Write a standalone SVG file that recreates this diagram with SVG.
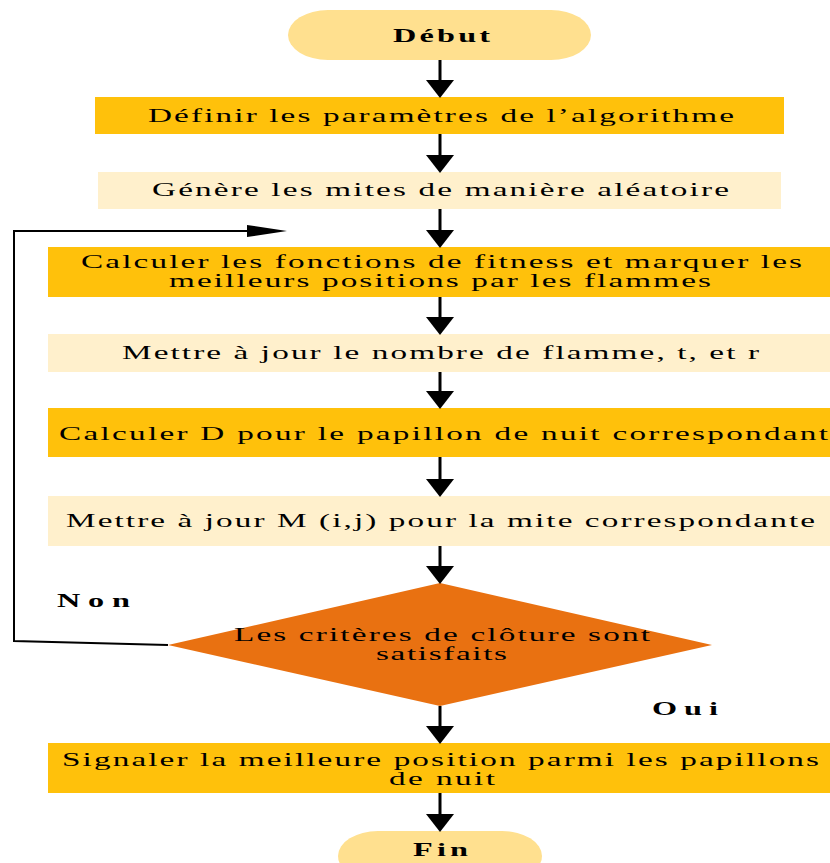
<svg xmlns="http://www.w3.org/2000/svg" width="830" height="863" viewBox="0 0 830 863">
  <style>
    .t { font-family: "Liberation Serif", "Times New Roman", serif; font-size: 19px; fill: #000; }
    .b { font-weight: bold; }
    .dark { fill: #FFC10B; }
    .light { fill: #FFF0CC; }
    .term { fill: #FFE08F; }
    .flow { stroke: #000; stroke-width: 3; fill: none; }
    .loop { stroke: #000; stroke-width: 2; fill: none; }
  </style>
  <defs>
    <marker id="head" markerUnits="userSpaceOnUse" markerWidth="18" markerHeight="28" viewBox="0 0 18 28" refX="0" refY="14" orient="auto">
      <path d="M0,0 L18,14 L0,28 Z" fill="#000"/>
    </marker>
    <marker id="headLoop" markerUnits="userSpaceOnUse" markerWidth="40" markerHeight="12" viewBox="0 0 40 12" refX="0" refY="6" orient="auto">
      <path d="M0,0 L40,6 L0,12 Z" fill="#000"/>
    </marker>
  </defs>

  <!-- labels use a widened serif: translate to the start point, then stretch x -->
  <g id="debut">
    <rect class="term" x="288" y="10" width="303" height="50" rx="40" ry="25"/>
    <text class="t b" transform="translate(393,42) scale(1.7,1)" textLength="57.1" lengthAdjust="spacing">Début</text>
  </g>

  <g id="definir">
    <rect class="dark" x="95" y="97" width="689" height="37"/>
    <text class="t" transform="translate(148,122) scale(1.75,1)" textLength="334.9" lengthAdjust="spacing">Définir les paramètres de l’algorithme</text>
  </g>

  <g id="generer">
    <rect class="light" x="98" y="172" width="683" height="37"/>
    <text class="t" transform="translate(152,196) scale(1.75,1)" textLength="329.7" lengthAdjust="spacing">Génère les mites de manière aléatoire</text>
  </g>

  <g id="fitness">
    <rect class="dark" x="48" y="247" width="782" height="50"/>
    <text class="t" transform="translate(81,268) scale(1.75,1)" textLength="412" lengthAdjust="spacing">Calculer les fonctions de fitness et marquer les</text>
    <text class="t" transform="translate(169,287) scale(1.75,1)" textLength="309.7" lengthAdjust="spacing">meilleurs positions par les flammes</text>
  </g>

  <g id="flammes">
    <rect class="light" x="48" y="334" width="782" height="38"/>
    <text class="t" transform="translate(122,359) scale(1.75,1)" textLength="364" lengthAdjust="spacing">Mettre à jour le nombre de flamme, t, et r</text>
  </g>

  <g id="calculD">
    <rect class="dark" x="48" y="408" width="782" height="49"/>
    <text class="t" transform="translate(59,440) scale(1.75,1)" textLength="439.4" lengthAdjust="spacing">Calculer D pour le papillon de nuit correspondant</text>
  </g>

  <g id="majM">
    <rect class="light" x="48" y="496" width="782" height="50"/>
    <text class="t" transform="translate(66,527) scale(1.75,1)" textLength="428" lengthAdjust="spacing">Mettre à jour M (i,j) pour la mite correspondante</text>
  </g>

  <g id="criteres">
    <polygon points="440,583 712,645 440,706 168,645" fill="#E97111"/>
    <text class="t" transform="translate(234,641) scale(1.75,1)" textLength="237.7" lengthAdjust="spacing">Les critères de clôture sont</text>
    <text class="t" transform="translate(376,660) scale(1.75,1)" textLength="74.9" lengthAdjust="spacing">satisfaits</text>
  </g>

  <g id="signaler">
    <rect class="dark" x="48" y="743" width="782" height="50"/>
    <text class="t" transform="translate(62,766) scale(1.75,1)" textLength="432.6" lengthAdjust="spacing">Signaler la meilleure position parmi les papillons</text>
    <text class="t" transform="translate(389,785) scale(1.75,1)" textLength="60.6" lengthAdjust="spacing">de nuit</text>
  </g>

  <g id="fin">
    <rect class="term" x="338" y="831" width="204" height="50" rx="40" ry="25"/>
    <text class="t b" transform="translate(413,856) scale(1.7,1)" textLength="32.4" lengthAdjust="spacing">Fin</text>
  </g>

  <g id="connectors">
    <path class="flow" d="M440,60 V80" marker-end="url(#head)"/>
    <path class="flow" d="M440,134 V155" marker-end="url(#head)"/>
    <path class="flow" d="M440,209 V230" marker-end="url(#head)"/>
    <path class="flow" d="M440,297 V317" marker-end="url(#head)"/>
    <path class="flow" d="M440,372 V391" marker-end="url(#head)"/>
    <path class="flow" d="M440,457 V479" marker-end="url(#head)"/>
    <path class="flow" d="M440,546 V566" marker-end="url(#head)"/>
    <path class="flow" d="M440,706 V726" marker-end="url(#head)"/>
    <path class="flow" d="M440,793 V814" marker-end="url(#head)"/>
    <path class="loop" d="M168,645 L14,641 V231 H247" marker-end="url(#headLoop)"/>
    <text class="t b" transform="translate(57,607) scale(1.7,1)" textLength="42.9" lengthAdjust="spacing">Non</text>
    <text class="t b" transform="translate(652,715) scale(1.7,1)" textLength="38.8" lengthAdjust="spacing">Oui</text>
  </g>
</svg>
